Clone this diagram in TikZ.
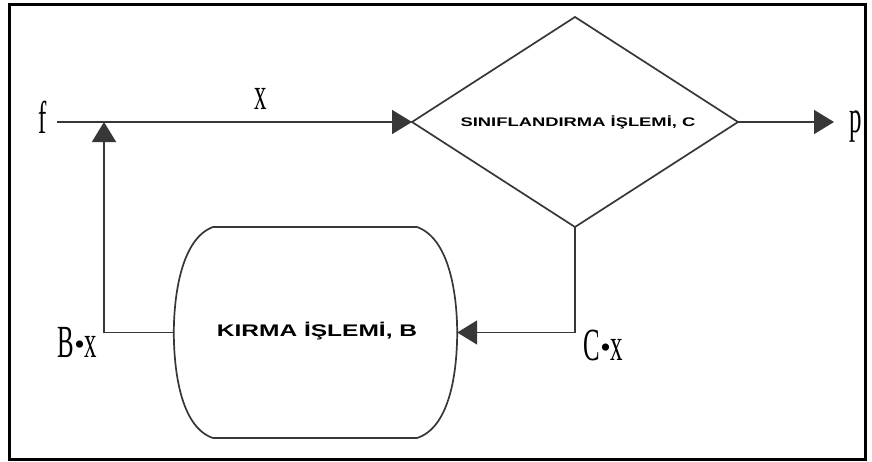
\documentclass[tikz,border=0pt]{standalone}
\usepackage{fontspec}
\usetikzlibrary{shapes.geometric,arrows.meta}
\newfontfamily\seriflbl{Liberation Serif}
\newfontfamily\boxfont{Liberation Sans}
\definecolor{linecol}{RGB}{55,55,55}
\tikzset{
  flow/.style={draw=linecol, line width=1.7pt},
  tip/.style={-{Triangle[length=20pt,width=24pt]}},
  var/.style={font=\fontsize{46}{46}\selectfont\seriflbl, inner sep=0pt, anchor=base},
  title/.style={font=\bfseries\boxfont, inner sep=0pt},
  decision/.style={diamond, draw=linecol, line width=1.7pt, minimum width=326pt,
                   minimum height=210pt, inner sep=0pt, outer sep=0pt},
}
\newcommand{\narrow}[1]{\scalebox{0.54}[1]{#1}}
\newcommand{\dotop}{\raisebox{3pt}{\fontsize{30}{30}\selectfont\seriflbl •}}
\begin{document}
\begin{tikzpicture}[x=1pt,y=-1pt]
  \useasboundingbox (0,0) rectangle (872,461);
  \fill[white] (0,0) rectangle (872,461);
  \draw[black, line width=3pt] (9,4.5) rectangle (865.5,459.5);

  % classifier
  \node[decision] (C) at (575,122) {};
  \node[title, font=\fontsize{12.5}{12.5}\selectfont\bfseries\boxfont] (Ct) at (578,122)
    {\scalebox{1.47}[1]{SINIFLANDIRMA İŞLEMİ, C}};

  % crusher: flat top and bottom, bulging sides
  \node[inner sep=0pt, minimum width=283pt, minimum height=211pt] (B) at (315.5,332.5) {};
  \draw[flow] (213,227) -- (417,227)
      .. controls (448,238) and (457,290) .. (B.east)
      .. controls (457,378) and (448,428) .. (417,438)
      -- (213,438)
      .. controls (183,428) and (174,378) .. (B.west)
      .. controls (174,290) and (183,238) .. (213,227) -- cycle;
  \node[title, font=\fontsize{16.8}{16.8}\selectfont\bfseries\boxfont] (Bt) at (317,331)
    {\scalebox{1.46}[1]{KIRMA İŞLEMİ, B}};

  % variables
  \node[var] (f) at (43,133) {\narrow{f}};
  \node[var] (x) at (261,109) {\narrow{x}};
  \node[var] (p) at (855.5,132) {\narrow{p}};
  \node[var] (Bx) at (77.5,357) {\narrow{B}\dotop\narrow{x}};
  \node[var] (Cx) at (603.5,360) {\narrow{C}\dotop\narrow{x}};

  % connector ends
  \coordinate (fout) at (57,122);
  \coordinate (join) at (104,122);
  \coordinate (pin) at (834,122);

  % flows
  \draw[flow, tip] (fout) -- (C.west);
  \draw[flow, tip] (C.east) -- (pin);
  \draw[flow, tip] (C.south) |- (B.east);
  \draw[flow, tip] (B.west) -| (join);
\end{tikzpicture}
\end{document}
